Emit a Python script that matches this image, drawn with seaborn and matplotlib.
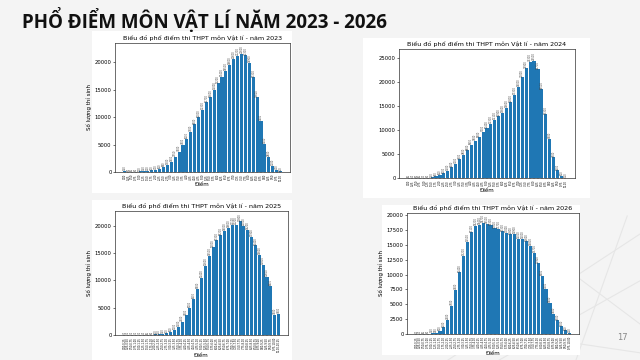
import numpy as np
import pandas as pd
import seaborn as sns
import matplotlib.pyplot as plt
from matplotlib.patches import Rectangle
from matplotlib.lines import Line2D

# Score counts
counts_2023 = [150, 50, 60, 80, 100, 150, 200, 300, 400, 600, 900, 1300, 1900,
               2750, 3700, 4900, 6000, 7300, 8700, 10000, 11300, 12700, 13600,
               15000, 16200, 17400, 18500, 19600, 20600, 21200, 21600, 21300,
               19900, 17300, 13600, 9300, 5200, 2800, 1100, 400, 100]
counts_2024 = [60, 40, 50, 60, 70, 80, 150, 350, 600, 1000, 1500, 2200, 3000,
               3900, 4800, 5800, 6900, 7800, 8500, 9700, 10400, 11300, 12100,
               12900, 13600, 14600, 15800, 17300, 19000, 21000, 22900, 24300,
               24500, 22700, 18500, 13300, 8200, 4300, 1600, 500, 100]
counts_2025 = [30, 30, 30, 30, 30, 40, 60, 80, 100, 120, 150, 300, 600, 1000,
               1500, 2400, 3600, 5000, 6600, 8500, 10400, 12600, 14500, 16000,
               17300, 18200, 19000, 19600, 20100, 20200, 20800, 20000, 19200,
               17900, 16400, 14600, 12800, 10600, 9000, 3700, 3900]
counts_2026 = [20, 40, 60, 80, 150, 250, 500, 1100, 2400, 4700, 7400, 10400,
               13200, 15500, 17100, 18200, 18400, 18700, 18500, 18300, 17800,
               17700, 17300, 17000, 16800, 16900, 16000, 16000, 15600, 14800,
               13700, 11900, 9800, 7600, 5300, 3400, 2300, 1300, 600, 200]

points_41 = [f"{i * 0.25:.2f}" for i in range(41)]
bins_41 = [f"{i * 0.25:.2f}-{(i + 1) * 0.25:.2f}" for i in range(41)]
bins_40 = [f"{i * 0.25:.2f}-{(i + 1) * 0.25:.2f}" for i in range(40)]

main_title = "PHỔ ĐIỂM MÔN VẬT LÍ NĂM 2023 - 2026"
chart_title = "Biểu đồ phổ điểm thi THPT môn Vật lí - năm {}"
y_label = "Số lượng thí sinh"
x_label = "Điểm"

plt.rcParams['font.family'] = ['DejaVu Sans']

fig = plt.figure(figsize=(6.4, 3.6), dpi=100)
fig.patch.set_facecolor('#f4f4f4')

W, H = 640, 360


def box(x0, y0, x1, y1):
    return (x0 / W, 1 - y1 / H, (x1 - x0) / W, (y1 - y0) / H)


# faint decorative lines, bottom right of the slide
for (xa, ya, xb, yb) in [(0.70, 0.0, 1.0, 0.35), (0.78, 0.0, 1.0, 0.22),
                         (0.62, 0.12, 1.0, 0.02), (0.85, 0.30, 1.0, 0.10),
                         (0.90, 0.0, 0.98, 0.40)]:
    fig.add_artist(Line2D([xa, xb], [ya, yb], transform=fig.transFigure,
                          color='#e6e6e6', lw=0.8, zorder=0))

# white image panels
panels = [(92, 31, 292, 193), (363, 38, 590, 198),
          (92, 200, 292, 360), (382, 205, 580, 355)]
for p in panels:
    x, y, w, h = box(*p)
    fig.add_artist(Rectangle((x, y), w, h, transform=fig.transFigure,
                             facecolor='white', edgecolor='none', zorder=1))

charts = [
    (2023, counts_2023, points_41, box(115, 43, 290, 172), True,
     [0, 5000, 10000, 15000, 20000], 1.09),
    (2024, counts_2024, points_41, box(399, 49, 575, 178), False,
     [0, 5000, 10000, 15000, 20000, 25000], 1.1),
    (2025, counts_2025, bins_41, box(115, 211, 288, 335), True,
     [0, 5000, 10000, 15000, 20000], 1.09),
    (2026, counts_2026, bins_40, box(407, 213, 579, 334), True,
     [0, 2500, 5000, 7500, 10000, 12500, 15000, 17500, 20000], 1.09),
]

for year, vals, labels, rect, show_ylabel, yt, top in charts:
    ax = fig.add_axes(rect)
    ax.set_zorder(2)
    df = pd.DataFrame({'score': labels, 'count': vals})
    sns.barplot(data=df, x='score', y='count', color='#1f77b4', saturation=1,
                width=0.8, ax=ax)
    ax.bar_label(ax.containers[0], rotation=90, fontsize=1.8, padding=0.5,
                 color='#444444')
    ax.set_title(chart_title.format(year), fontsize=4.6, pad=2)
    ax.set_xlabel(x_label, fontsize=4, labelpad=1)
    ax.set_ylabel(y_label if show_ylabel else '', fontsize=4, labelpad=2)
    ax.set_yticks(yt)
    ax.tick_params(axis='y', labelsize=3.8, length=1.5, width=0.4, pad=1)
    ax.tick_params(axis='x', labelsize=1.8, length=1, width=0.3, pad=0.5,
                   labelrotation=90)
    n = len(vals)
    span = n - 0.2
    ax.set_xlim(-0.4 - 0.05 * span, n - 0.6 + 0.05 * span)
    ax.set_ylim(0, max(vals) * top)
    for s in ax.spines.values():
        s.set_linewidth(0.5)
        s.set_color('#333333')

fig.text(22 / W, 1 - 20 / H, main_title, fontsize=13.5, fontweight='bold',
         family=['Open Sans', 'DejaVu Sans'], va='center', ha='left',
         color='#111111')
fig.text(622 / W, 1 - 337 / H, "17", fontsize=6, color='#888888',
         va='center', ha='center')

fig.savefig('out.png', dpi=100, facecolor=fig.get_facecolor())
